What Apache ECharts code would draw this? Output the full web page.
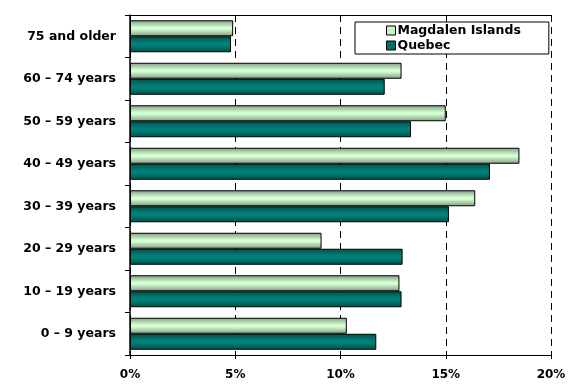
<!DOCTYPE html>
<html>
<head>
<meta charset="utf-8">
<script src="https://cdn.jsdelivr.net/npm/echarts@6/dist/echarts.min.js"></script>
<style>
  html, body { margin: 0; padding: 0; background: #fff; }
  #chart { width: 573px; height: 387px; }
</style>
</head>
<body>
<div id="chart"></div>
<script>
// age groups, bottom to top
const ageGroups = ['0 – 9 years', '10 – 19 years', '20 – 29 years', '30 – 39 years',
  '40 – 49 years', '50 – 59 years', '60 – 74 years', '75 and older'];
// percent of population
const magdalen = [10.3, 12.8, 9.1, 16.4, 18.5, 15.0, 12.9, 4.9];
const quebec = [11.7, 12.9, 12.95, 15.15, 17.1, 13.35, 12.1, 4.8];
const xTicks = [0, 5, 10, 15, 20];

const font = '"DejaVu Sans", Verdana, sans-serif';

const chart = echarts.init(document.getElementById('chart'));

// vertical gradient so bars look like tubes
const tube = (edge, mid) => new echarts.graphic.LinearGradient(0, 0, 0, 1, [
  { offset: 0, color: edge },
  { offset: 0.45, color: mid },
  { offset: 0.55, color: mid },
  { offset: 1, color: edge }
]);

const option = {
  animation: false,
  grid: { left: 130, right: 22, top: 15, bottom: 32 },
  legend: {
    data: [
      { name: 'Magdalen Islands', itemStyle: { color: '#c6f5c6', borderColor: '#000', borderWidth: 1 } },
      { name: 'Quebec', itemStyle: { color: '#00706a', borderColor: '#000', borderWidth: 1 } }
    ],
    orient: 'vertical',
    left: 355,
    top: 22,
    icon: 'rect',
    itemWidth: 9,
    itemHeight: 9,
    itemGap: 2,
    padding: [2, 28, 2, 31],
    borderColor: '#000',
    borderWidth: 1,
    backgroundColor: '#fff',
    textStyle: { fontFamily: font, fontWeight: 'bold', fontSize: 12.5, color: '#000', padding: [0, 0, 0, -3] }
  },
  xAxis: [{
    type: 'value',
    min: 0,
    max: 20,
    interval: 5,
    axisLine: { show: true, lineStyle: { color: '#000' } },
    axisTick: { show: true, length: 4, lineStyle: { color: '#000' } },
    axisLabel: {
      margin: 14,
      fontFamily: font, fontWeight: 'bold', fontSize: 12, color: '#000',
      formatter: v => xTicks.includes(v) ? v + '%' : ''
    },
    splitLine: { show: true, lineStyle: { color: '#000', type: [7, 5], width: 1 } }
  }, {
    type: 'value',
    position: 'top',
    min: 0,
    max: 20,
    axisLine: { show: true, lineStyle: { color: '#000' } },
    axisTick: { show: false },
    axisLabel: { show: false },
    splitLine: { show: false }
  }],
  yAxis: {
    type: 'category',
    data: ageGroups,
    axisLine: { show: true, lineStyle: { color: '#000', width: 1.5 } },
    axisTick: { show: true, length: 5, lineStyle: { color: '#000' } },
    axisLabel: {
      margin: 14,
      fontFamily: font, fontWeight: 'bold', fontSize: 12.5, color: '#000'
    }
  },
  series: [
    {
      name: 'Magdalen Islands',
      type: 'bar',
      data: magdalen,
      barWidth: 16,
      barGap: '0%',
      itemStyle: { color: tube('#7f9a7f', '#d4ffd4'), borderColor: '#000', borderWidth: 1 }
    },
    {
      name: 'Quebec',
      type: 'bar',
      data: quebec,
      barWidth: 16,
      barGap: '0%',
      itemStyle: { color: tube('#004f4a', '#00827a'), borderColor: '#000', borderWidth: 1 }
    }
  ]
};

chart.setOption(option);
</script>
</body>
</html>
